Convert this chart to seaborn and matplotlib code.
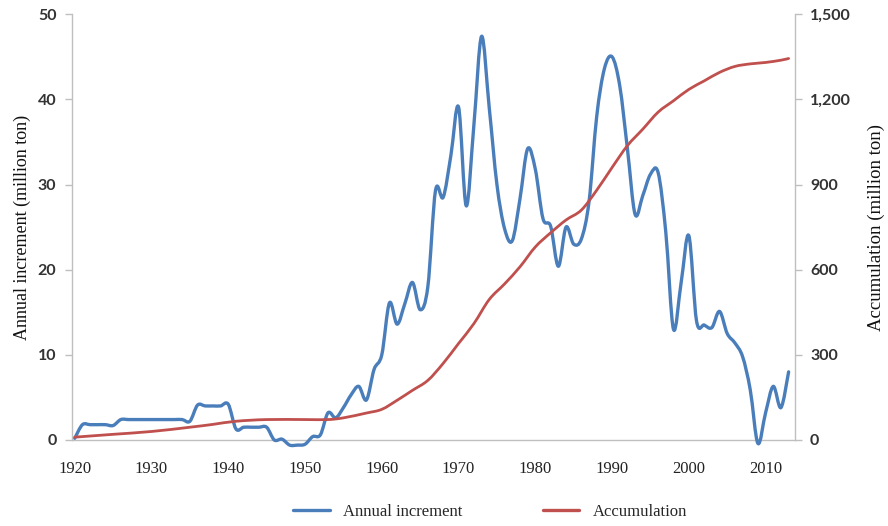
import matplotlib
matplotlib.use("Agg")
import matplotlib.pyplot as plt
import numpy as np
import pandas as pd
import seaborn as sns

from matplotlib.lines import Line2D
from matplotlib.patches import PathPatch
from matplotlib.path import Path

# Annual increment, one value per year (million ton)
years = list(range(1920, 2014))
increment = [
    0.2, 1.8, 1.8, 1.8, 1.8, 1.7, 2.4, 2.4, 2.4, 2.4,      # 1920s
    2.4, 2.4, 2.4, 2.4, 2.4, 2.2, 4.1, 4.0, 4.0, 4.0,      # 1930s
    4.2, 1.3, 1.5, 1.5, 1.5, 1.5, 0.0, 0.1, -0.6, -0.6,    # 1940s
    -0.5, 0.4, 0.6, 3.2, 2.6, 3.8, 5.3, 6.3, 4.7, 8.3,     # 1950s
    10.0, 16.1, 13.6, 16.0, 18.5, 15.3, 18.0, 29.3, 28.5, 33.4,  # 1960s
    39.1, 27.5, 37.0, 47.4, 39.0, 30.0, 24.8, 23.4, 28.3, 34.2,  # 1970s
    31.8, 26.0, 25.1, 20.4, 25.0, 23.0, 23.6, 28.0, 38.0, 43.6,  # 1980s
    45.0, 41.6, 34.2, 26.5, 28.7, 31.2, 31.4, 24.4, 13.0, 18.5,  # 1990s
    24.0, 14.0, 13.5, 13.2, 15.1, 12.5, 11.4, 9.8, 5.9, -0.4,    # 2000s
    3.2, 6.3, 3.8, 8.0,                                          # 2010s
]

# Accumulation (million ton)
acc_years = [1920, 1925, 1930, 1935, 1938, 1941, 1945, 1950, 1953, 1955,
             1958, 1960, 1962, 1964, 1966, 1968, 1970, 1972, 1974, 1976,
             1978, 1980, 1982, 1984, 1986, 1988, 1990, 1992, 1994, 1996,
             1998, 2000, 2002, 2004, 2006, 2008, 2010, 2012, 2013]
accumulation = [10, 20, 30, 45, 55, 66, 72, 72, 72, 78,
                95, 108, 140, 175, 210, 270, 340, 410, 495, 550,
                610, 680, 730, 775, 810, 880, 960, 1037, 1095, 1155,
                1195, 1235, 1265, 1295, 1316, 1325, 1330, 1338, 1344]

x_ticks = list(range(1920, 2011, 10))
left_ticks = [0, 10, 20, 30, 40, 50]
right_ticks = [0, 300, 600, 900, 1200, 1500]

inc_df = pd.DataFrame({"year": years, "value": increment})
acc_df = pd.DataFrame({"year": acc_years, "value": accumulation})

sns.set_style("white")
plt.rcParams["font.family"] = ["Liberation Serif", "DejaVu Serif"]

blue = "#4a7ebb"
red = "#c0504d"
grey = "#bfbfbf"


# Excel-style smoothed line: turn the drawn polyline into a bezier path
def smooth_line(line, ax, **kw):
    pts = np.asarray(line.get_xydata())
    ext = np.vstack([pts[0], pts, pts[-1]])
    verts = [pts[0]]
    codes = [Path.MOVETO]
    for i in range(len(pts) - 1):
        p0, p1, p2, p3 = ext[i], ext[i + 1], ext[i + 2], ext[i + 3]
        verts += [p1 + (p2 - p0) / 6, p2 - (p3 - p1) / 6, p2]
        codes += [Path.CURVE4] * 3
    patch = PathPatch(Path(verts, codes), facecolor="none",
                      edgecolor=line.get_color(),
                      linewidth=line.get_linewidth(),
                      capstyle="round", joinstyle="round", **kw)
    ax.add_patch(patch)
    line.set_visible(False)


fig = plt.figure(figsize=(8.88, 5.26), dpi=100)
ax = fig.add_axes([0.0807, 0.1635, 0.8143, 0.8095])
ax2 = ax.twinx()

sns.lineplot(data=inc_df, x="year", y="value", ax=ax, color=blue,
             linewidth=2.4, legend=False)
sns.lineplot(data=acc_df, x="year", y="value", ax=ax2, color=red,
             linewidth=2.0, legend=False)
smooth_line(ax.lines[0], ax, clip_on=False, zorder=3)
smooth_line(ax2.lines[0], ax2, clip_on=False, zorder=2)

ax.set_xlim(1919.6, 2013.8)
ax.set_ylim(0, 50)
ax2.set_ylim(0, 1500)

ax.set_xticks(x_ticks)
ax.set_xticklabels([str(t) for t in x_ticks], fontsize=12,
                   family="Liberation Serif", color="#222222")
ax.set_yticks(left_ticks)
ax.set_yticklabels([str(t) for t in left_ticks], fontsize=11.5,
                   family="Lato", fontweight="bold", color="#333333")
ax2.set_yticks(right_ticks)
ax2.set_yticklabels([f"{t:,}" for t in right_ticks], fontsize=11.5,
                    family="Lato", fontweight="bold", color="#333333")

for a in (ax, ax2):
    for side in ("left", "right", "bottom", "top"):
        a.spines[side].set_color(grey)
        a.spines[side].set_linewidth(1.0)
    a.spines["top"].set_visible(False)
    a.tick_params(axis="both", which="both", length=5, width=1.0,
                  color=grey, direction="out")
ax.spines["right"].set_visible(False)
ax2.spines["left"].set_visible(False)
ax2.spines["bottom"].set_visible(False)
ax.tick_params(axis="x", pad=10)
ax.tick_params(axis="y", pad=6)
ax2.tick_params(axis="y", pad=6)

ax.set_xlabel("")
ax.set_ylabel("Annual increment (million ton)", fontsize=13,
              family="Liberation Serif", color="#111111", labelpad=5)
ax2.set_ylabel("Accumulation (million ton)", fontsize=13.5,
               family="Liberation Serif", color="#111111", labelpad=12)

handles = [Line2D([], [], color=blue, linewidth=2.4),
           Line2D([], [], color=red, linewidth=2.4)]
fig.legend(handles, ["Annual increment", "Accumulation"], loc="center",
           bbox_to_anchor=(0.552, 0.027), ncol=2, frameon=False,
           handlelength=2.2, columnspacing=4.8,
           prop={"family": "Liberation Serif", "size": 12})

fig.savefig("out.png", dpi=100)
